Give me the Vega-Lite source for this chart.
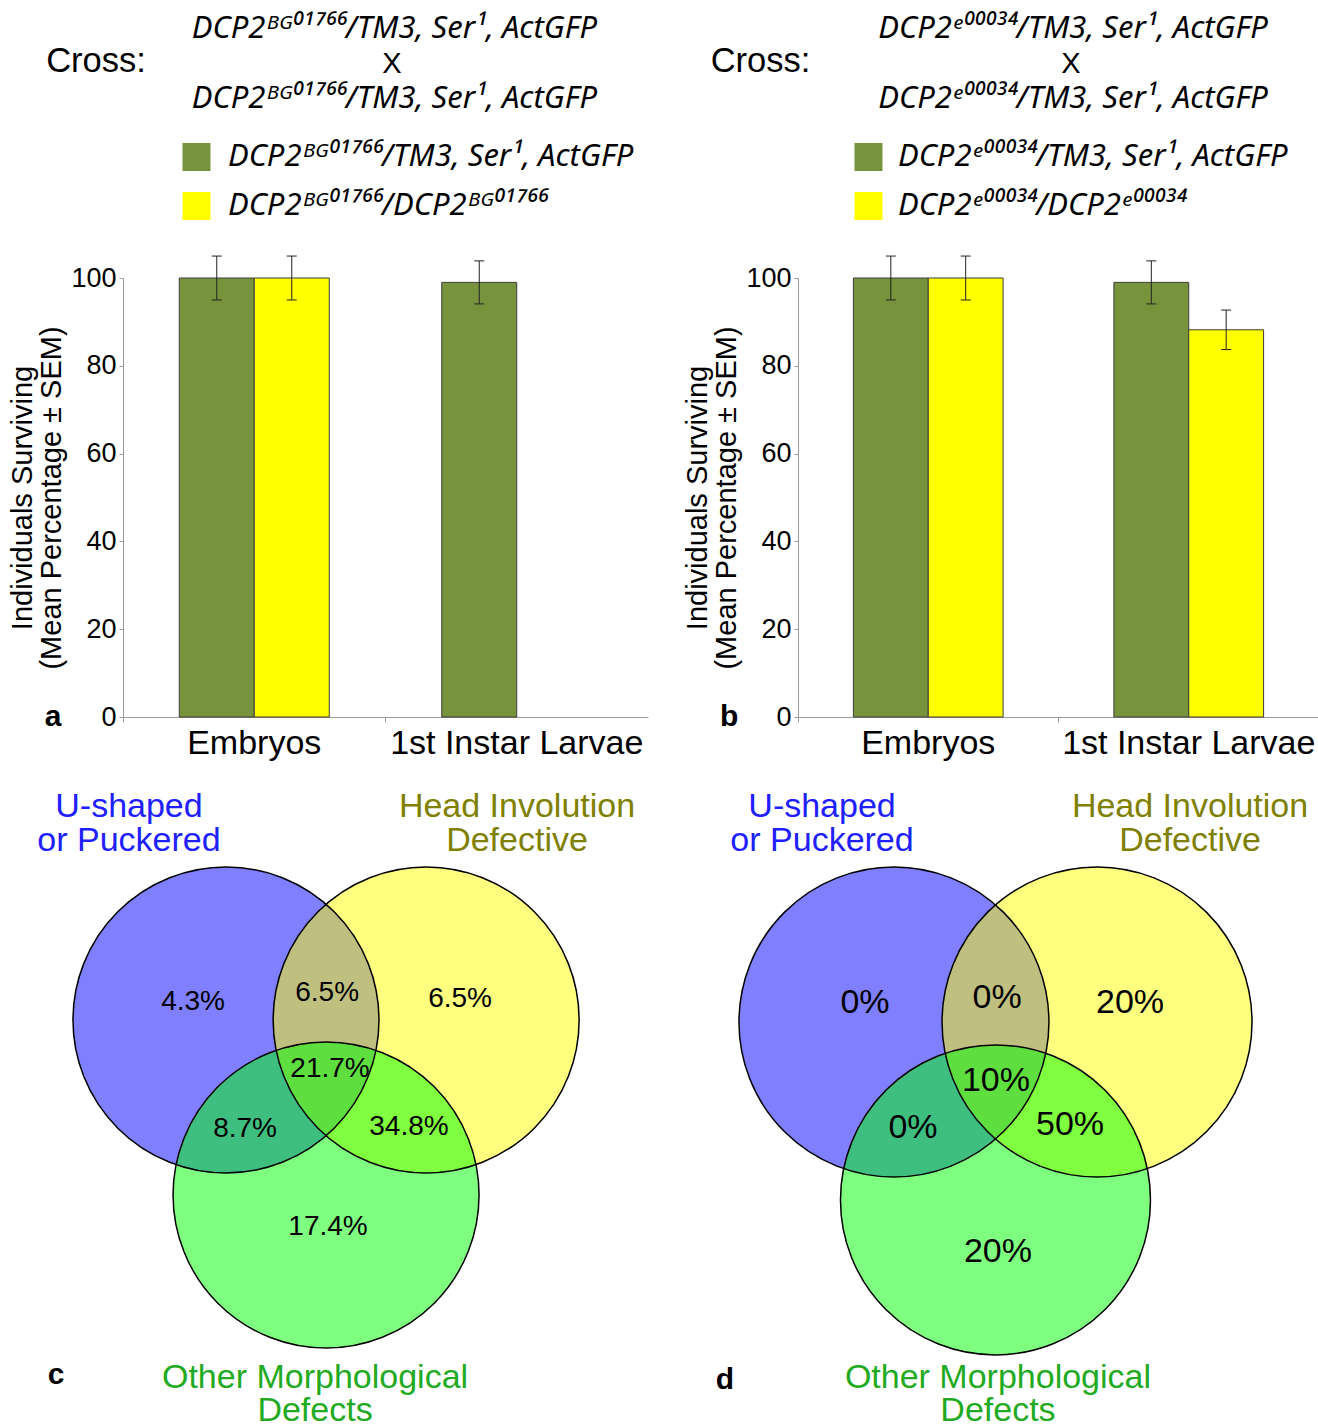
{
 "$schema": "https://vega.github.io/schema/vega-lite/v6.json",
 "background": "white",
 "padding": {"left": 8, "top": 0, "right": 0, "bottom": 0},
 "autosize": {"type": "pad"},
 "columns": 2,
 "bounds": "flush",
 "spacing": {"row": 28, "column": 150},
 "config": {
  "font": "Liberation Sans",
  "view": {"stroke": null},
  "axis": {"grid": false, "domainColor": "#9a9a9a", "tickColor": "#9a9a9a", "labelColor": "#000000", "titleColor": "#000000", "labelFont": "Liberation Sans", "titleFont": "Liberation Sans", "titleFontWeight": "normal"},
  "legend": {"labelFont": "Noto Sans"}
 },
 "resolve": {"scale": {"x": "independent", "y": "independent", "color": "independent", "fill": "independent", "xOffset": "independent"}, "legend": {"color": "independent"}},
 "concat": [
  {
   "width": 525, "height": 250,
   "data": {"values": [
    {"kind": "cross", "text": "Cross:", "pos": -0.0514, "line": 1.97},
    {"kind": "genotype", "text": "DCP2ᴮᴳ⁰¹⁷⁶⁶/TM3, Ser¹, ActGFP", "pos": 0.517, "line": 1},
    {"kind": "times", "text": "X", "pos": 0.512, "line": 2},
    {"kind": "genotype", "text": "DCP2ᴮᴳ⁰¹⁷⁶⁶/TM3, Ser¹, ActGFP", "pos": 0.517, "line": 3}
   ]},
   "encoding": {
    "x": {"field": "pos", "type": "quantitative", "scale": {"domain": [0, 1], "nice": false, "zero": false}, "axis": null},
    "y": {"field": "line", "type": "quantitative", "scale": {"domain": [-0.0857, 7.057], "nice": false, "zero": false, "reverse": true}, "axis": null},
    "text": {"field": "text", "type": "nominal"}
   },
   "layer": [
    {"transform": [{"filter": "datum.kind === 'cross'"}], "mark": {"type": "text", "fontSize": 34.5, "baseline": "alphabetic"}},
    {"transform": [{"filter": "datum.kind === 'genotype'"}], "mark": {"type": "text", "font": "Noto Sans", "fontSize": 31, "fontStyle": "italic", "baseline": "alphabetic"}},
    {"transform": [{"filter": "datum.kind === 'times'"}], "mark": {"type": "text", "fontSize": 29, "baseline": "alphabetic"}}
   ]
  },
  {
   "width": 521, "height": 250,
   "data": {"values": [
    {"kind": "cross", "text": "Cross:", "pos": -0.072, "line": 1.97},
    {"kind": "genotype", "text": "DCP2ᵉ⁰⁰⁰³⁴/TM3, Ser¹, ActGFP", "pos": 0.528, "line": 1},
    {"kind": "times", "text": "X", "pos": 0.524, "line": 2},
    {"kind": "genotype", "text": "DCP2ᵉ⁰⁰⁰³⁴/TM3, Ser¹, ActGFP", "pos": 0.528, "line": 3}
   ]},
   "encoding": {
    "x": {"field": "pos", "type": "quantitative", "scale": {"domain": [0, 1], "nice": false, "zero": false}, "axis": null},
    "y": {"field": "line", "type": "quantitative", "scale": {"domain": [-0.0857, 7.057], "nice": false, "zero": false, "reverse": true}, "axis": null},
    "text": {"field": "text", "type": "nominal"}
   },
   "layer": [
    {"transform": [{"filter": "datum.kind === 'cross'"}], "mark": {"type": "text", "fontSize": 34.5, "baseline": "alphabetic"}},
    {"transform": [{"filter": "datum.kind === 'genotype'"}], "mark": {"type": "text", "font": "Noto Sans", "fontSize": 31, "fontStyle": "italic", "baseline": "alphabetic"}},
    {"transform": [{"filter": "datum.kind === 'times'"}], "mark": {"type": "text", "fontSize": 29, "baseline": "alphabetic"}}
   ]
  },
  {
   "width": 525, "height": 439,
   "data": {"values": [
    {"stage": "Embryos", "genotype": "DCP2ᴮᴳ⁰¹⁷⁶⁶/TM3, Ser¹, ActGFP", "mean": 100, "lower": 95, "upper": 105},
    {"stage": "Embryos", "genotype": "DCP2ᴮᴳ⁰¹⁷⁶⁶/DCP2ᴮᴳ⁰¹⁷⁶⁶", "mean": 100, "lower": 95, "upper": 105},
    {"stage": "1st Instar Larvae", "genotype": "DCP2ᴮᴳ⁰¹⁷⁶⁶/TM3, Ser¹, ActGFP", "mean": 99, "lower": 94.1, "upper": 103.9}
   ]},
   "layer": [
    {
     "encoding": {
      "x": {"field": "stage", "type": "nominal", "sort": ["Embryos", "1st Instar Larvae"], "scale": {"paddingInner": 0, "paddingOuter": 0}, "axis": {"title": null, "labelAngle": 0, "labelFontSize": 34, "labelLimit": 0, "bandPosition": 0, "tickSize": 5, "labelPadding": 4}},
      "xOffset": {"field": "genotype", "type": "nominal", "scale": {"domain": ["DCP2ᴮᴳ⁰¹⁷⁶⁶/TM3, Ser¹, ActGFP", "DCP2ᴮᴳ⁰¹⁷⁶⁶/DCP2ᴮᴳ⁰¹⁷⁶⁶"], "paddingInner": 0, "paddingOuter": 0.75}}
     },
     "layer": [
      {"mark": {"type": "bar", "stroke": "#3c3c3c", "strokeWidth": 1}, "encoding": {
        "y": {"field": "mean", "type": "quantitative", "scale": {"domain": [0, 100], "nice": false}, "axis": {"values": [0, 20, 40, 60, 80, 100], "title": ["Individuals Surviving", "(Mean Percentage ± SEM)"], "titleFontSize": 29, "titleLineHeight": 29, "titlePadding": 4, "labelFontSize": 27, "tickSize": 4, "labelPadding": 3}},
        "color": {"field": "genotype", "type": "nominal", "scale": {"domain": ["DCP2ᴮᴳ⁰¹⁷⁶⁶/TM3, Ser¹, ActGFP", "DCP2ᴮᴳ⁰¹⁷⁶⁶/DCP2ᴮᴳ⁰¹⁷⁶⁶"], "range": ["#77933c", "#ffff00"]}, "legend": {"title": null, "orient": "none", "legendX": 58, "legendY": -136.5, "direction": "vertical", "symbolType": "square", "symbolSize": 784, "symbolStrokeWidth": 0, "labelFontSize": 31, "labelFontStyle": "italic", "labelOffset": 16, "rowPadding": 17, "labelLimit": 0}}
      }},
      {"mark": {"type": "rule", "color": "#222222", "strokeWidth": 1}, "encoding": {"y": {"field": "lower", "type": "quantitative", "scale": {"domain": [0, 100], "nice": false}}, "y2": {"field": "upper"}}},
      {"mark": {"type": "tick", "color": "#222222", "thickness": 1, "size": 10, "orient": "horizontal", "opacity": 1}, "encoding": {"y": {"field": "upper", "type": "quantitative", "scale": {"domain": [0, 100], "nice": false}}}},
      {"mark": {"type": "tick", "color": "#222222", "thickness": 1, "size": 10, "orient": "horizontal", "opacity": 1}, "encoding": {"y": {"field": "lower", "type": "quantitative", "scale": {"domain": [0, 100], "nice": false}}}}
     ]
    },
    {"data": {"values": [{"letter": "a"}]}, "mark": {"type": "text", "fontSize": 30, "fontWeight": "bold", "baseline": "middle"}, "encoding": {"x": {"datum": -0.133, "type": "quantitative", "scale": {"domain": [0, 1], "nice": false, "zero": false}, "axis": null}, "y": {"datum": 0, "type": "quantitative", "scale": {"domain": [0, 100], "nice": false}}, "text": {"field": "letter"}}}
   ],
   "resolve": {"scale": {"x": "independent"}}
  },
  {
   "width": 521, "height": 439,
   "data": {"values": [
    {"stage": "Embryos", "genotype": "DCP2ᵉ⁰⁰⁰³⁴/TM3, Ser¹, ActGFP", "mean": 100, "lower": 95, "upper": 105},
    {"stage": "Embryos", "genotype": "DCP2ᵉ⁰⁰⁰³⁴/DCP2ᵉ⁰⁰⁰³⁴", "mean": 100, "lower": 95, "upper": 105},
    {"stage": "1st Instar Larvae", "genotype": "DCP2ᵉ⁰⁰⁰³⁴/TM3, Ser¹, ActGFP", "mean": 99, "lower": 94.1, "upper": 103.9},
    {"stage": "1st Instar Larvae", "genotype": "DCP2ᵉ⁰⁰⁰³⁴/DCP2ᵉ⁰⁰⁰³⁴", "mean": 88.2, "lower": 83.7, "upper": 92.7}
   ]},
   "layer": [
    {
     "encoding": {
      "x": {"field": "stage", "type": "nominal", "sort": ["Embryos", "1st Instar Larvae"], "scale": {"paddingInner": 0, "paddingOuter": 0}, "axis": {"title": null, "labelAngle": 0, "labelFontSize": 34, "labelLimit": 0, "bandPosition": 0, "tickSize": 5, "labelPadding": 4}},
      "xOffset": {"field": "genotype", "type": "nominal", "scale": {"domain": ["DCP2ᵉ⁰⁰⁰³⁴/TM3, Ser¹, ActGFP", "DCP2ᵉ⁰⁰⁰³⁴/DCP2ᵉ⁰⁰⁰³⁴"], "paddingInner": 0, "paddingOuter": 0.74}}
     },
     "layer": [
      {"mark": {"type": "bar", "stroke": "#3c3c3c", "strokeWidth": 1}, "encoding": {
        "y": {"field": "mean", "type": "quantitative", "scale": {"domain": [0, 100], "nice": false}, "axis": {"values": [0, 20, 40, 60, 80, 100], "title": ["Individuals Surviving", "(Mean Percentage ± SEM)"], "titleFontSize": 29, "titleLineHeight": 29, "titlePadding": 4, "labelFontSize": 27, "tickSize": 4, "labelPadding": 3}},
        "color": {"field": "genotype", "type": "nominal", "scale": {"domain": ["DCP2ᵉ⁰⁰⁰³⁴/TM3, Ser¹, ActGFP", "DCP2ᵉ⁰⁰⁰³⁴/DCP2ᵉ⁰⁰⁰³⁴"], "range": ["#77933c", "#ffff00"]}, "legend": {"title": null, "orient": "none", "legendX": 55, "legendY": -136.5, "direction": "vertical", "symbolType": "square", "symbolSize": 784, "symbolStrokeWidth": 0, "labelFontSize": 31, "labelFontStyle": "italic", "labelOffset": 14, "rowPadding": 17, "labelLimit": 0}}
      }},
      {"mark": {"type": "rule", "color": "#222222", "strokeWidth": 1}, "encoding": {"y": {"field": "lower", "type": "quantitative", "scale": {"domain": [0, 100], "nice": false}}, "y2": {"field": "upper"}}},
      {"mark": {"type": "tick", "color": "#222222", "thickness": 1, "size": 10, "orient": "horizontal", "opacity": 1}, "encoding": {"y": {"field": "upper", "type": "quantitative", "scale": {"domain": [0, 100], "nice": false}}}},
      {"mark": {"type": "tick", "color": "#222222", "thickness": 1, "size": 10, "orient": "horizontal", "opacity": 1}, "encoding": {"y": {"field": "lower", "type": "quantitative", "scale": {"domain": [0, 100], "nice": false}}}}
     ]
    },
    {"data": {"values": [{"letter": "b"}]}, "mark": {"type": "text", "fontSize": 30, "fontWeight": "bold", "baseline": "middle"}, "encoding": {"x": {"datum": -0.132, "type": "quantitative", "scale": {"domain": [0, 1], "nice": false, "zero": false}, "axis": null}, "y": {"datum": 0, "type": "quantitative", "scale": {"domain": [0, 100], "nice": false}}, "text": {"field": "letter"}}}
   ],
   "resolve": {"scale": {"x": "independent"}}
  },
  {
   "width": 525, "height": 680,
   "encoding": {
    "x": {"field": "ux", "type": "quantitative", "scale": {"domain": [-1.327, 2.104], "nice": false, "zero": false}, "axis": null},
    "y": {"field": "uy", "type": "quantitative", "scale": {"domain": [-2.647, 1.797], "nice": false, "zero": false}, "axis": null}
   },
   "layer": [
    {"data": {"values": [
      {"set": "U-shaped or Puckered", "ux": -0.654, "uy": 0},
      {"set": "Head Involution Defective", "ux": 0.654, "uy": 0},
      {"set": "Other Morphological Defects", "ux": 0, "uy": -1.144}
     ]},
     "layer": [
      {"mark": {"type": "point", "shape": "circle", "filled": true, "size": 93636, "opacity": 1, "fillOpacity": 0.5, "strokeWidth": 0}, "encoding": {"fill": {"field": "set", "type": "nominal", "scale": {"domain": ["U-shaped or Puckered", "Head Involution Defective", "Other Morphological Defects"], "range": ["#0000ff", "#ffff00", "#00ff00"]}, "legend": null}}},
      {"mark": {"type": "point", "shape": "circle", "filled": false, "size": 93636, "opacity": 1, "stroke": "#000000", "strokeWidth": 1.5}}
     ]},
    {"data": {"values": [
      {"label": "4.3%", "ux": -0.869, "uy": 0.118},
      {"label": "6.5%", "ux": 0.007, "uy": 0.176},
      {"label": "6.5%", "ux": 0.876, "uy": 0.137},
      {"label": "21.7%", "ux": 0.026, "uy": -0.32},
      {"label": "8.7%", "ux": -0.529, "uy": -0.712},
      {"label": "34.8%", "ux": 0.542, "uy": -0.699},
      {"label": "17.4%", "ux": 0.013, "uy": -1.353}
     ]},
     "mark": {"type": "text", "fontSize": 28, "baseline": "middle"},
     "encoding": {"text": {"field": "label"}}},
    {"data": {"values": [
      {"set": "U-shaped or Puckered", "line": "U-shaped", "ux": -1.288, "uy": 1.392},
      {"set": "U-shaped or Puckered", "line": "or Puckered", "ux": -1.288, "uy": 1.17},
      {"set": "Head Involution Defective", "line": "Head Involution", "ux": 1.248, "uy": 1.392},
      {"set": "Head Involution Defective", "line": "Defective", "ux": 1.248, "uy": 1.17},
      {"set": "Other Morphological Defects", "line": "Other Morphological", "ux": -0.072, "uy": -2.34},
      {"set": "Other Morphological Defects", "line": "Defects", "ux": -0.072, "uy": -2.556}
     ]},
     "mark": {"type": "text", "fontSize": 34, "baseline": "middle"},
     "encoding": {"text": {"field": "line"}, "color": {"field": "set", "type": "nominal", "scale": {"domain": ["U-shaped or Puckered", "Head Involution Defective", "Other Morphological Defects"], "range": ["#2020ff", "#808000", "#22aa22"]}, "legend": null}}},
    {"data": {"values": [{"letter": "c", "ux": -1.765, "uy": -2.32}]},
     "mark": {"type": "text", "fontSize": 30, "fontWeight": "bold", "baseline": "middle"},
     "encoding": {"text": {"field": "letter"}}}
   ]
  },
  {
   "width": 521, "height": 680,
   "encoding": {
    "x": {"field": "ux", "type": "quantitative", "scale": {"domain": [-1.274, 2.087], "nice": false, "zero": false}, "axis": null},
    "y": {"field": "uy", "type": "quantitative", "scale": {"domain": [-2.6, 1.787], "nice": false, "zero": false}, "axis": null}
   },
   "layer": [
    {"data": {"values": [
      {"set": "U-shaped or Puckered", "ux": -0.655, "uy": 0},
      {"set": "Head Involution Defective", "ux": 0.655, "uy": 0},
      {"set": "Other Morphological Defects", "ux": 0, "uy": -1.148}
     ]},
     "layer": [
      {"mark": {"type": "point", "shape": "circle", "filled": true, "size": 96100, "opacity": 1, "fillOpacity": 0.5, "strokeWidth": 0}, "encoding": {"fill": {"field": "set", "type": "nominal", "scale": {"domain": ["U-shaped or Puckered", "Head Involution Defective", "Other Morphological Defects"], "range": ["#0000ff", "#ffff00", "#00ff00"]}, "legend": null}}},
      {"mark": {"type": "point", "shape": "circle", "filled": false, "size": 96100, "opacity": 1, "stroke": "#000000", "strokeWidth": 1.5}}
     ]},
    {"data": {"values": [
      {"label": "0%", "ux": -0.842, "uy": 0.123},
      {"label": "0%", "ux": 0.01, "uy": 0.155},
      {"label": "20%", "ux": 0.868, "uy": 0.123},
      {"label": "10%", "ux": 0.003, "uy": -0.381},
      {"label": "0%", "ux": -0.532, "uy": -0.684},
      {"label": "50%", "ux": 0.481, "uy": -0.665},
      {"label": "20%", "ux": 0.016, "uy": -1.484}
     ]},
     "mark": {"type": "text", "fontSize": 34, "baseline": "middle"},
     "encoding": {"text": {"field": "label"}}},
    {"data": {"values": [
      {"set": "U-shaped or Puckered", "line": "U-shaped", "ux": -1.119, "uy": 1.387},
      {"set": "U-shaped or Puckered", "line": "or Puckered", "ux": -1.119, "uy": 1.168},
      {"set": "Head Involution Defective", "line": "Head Involution", "ux": 1.255, "uy": 1.387},
      {"set": "Head Involution Defective", "line": "Defective", "ux": 1.255, "uy": 1.168},
      {"set": "Other Morphological Defects", "line": "Other Morphological", "ux": 0.016, "uy": -2.297},
      {"set": "Other Morphological Defects", "line": "Defects", "ux": 0.016, "uy": -2.51}
     ]},
     "mark": {"type": "text", "fontSize": 34, "baseline": "middle"},
     "encoding": {"text": {"field": "line"}, "color": {"field": "set", "type": "nominal", "scale": {"domain": ["U-shaped or Puckered", "Head Involution Defective", "Other Morphological Defects"], "range": ["#2020ff", "#808000", "#22aa22"]}, "legend": null}}},
    {"data": {"values": [{"letter": "d", "ux": -1.745, "uy": -2.31}]},
     "mark": {"type": "text", "fontSize": 30, "fontWeight": "bold", "baseline": "middle"},
     "encoding": {"text": {"field": "letter"}}}
   ]
  }
 ]
}
